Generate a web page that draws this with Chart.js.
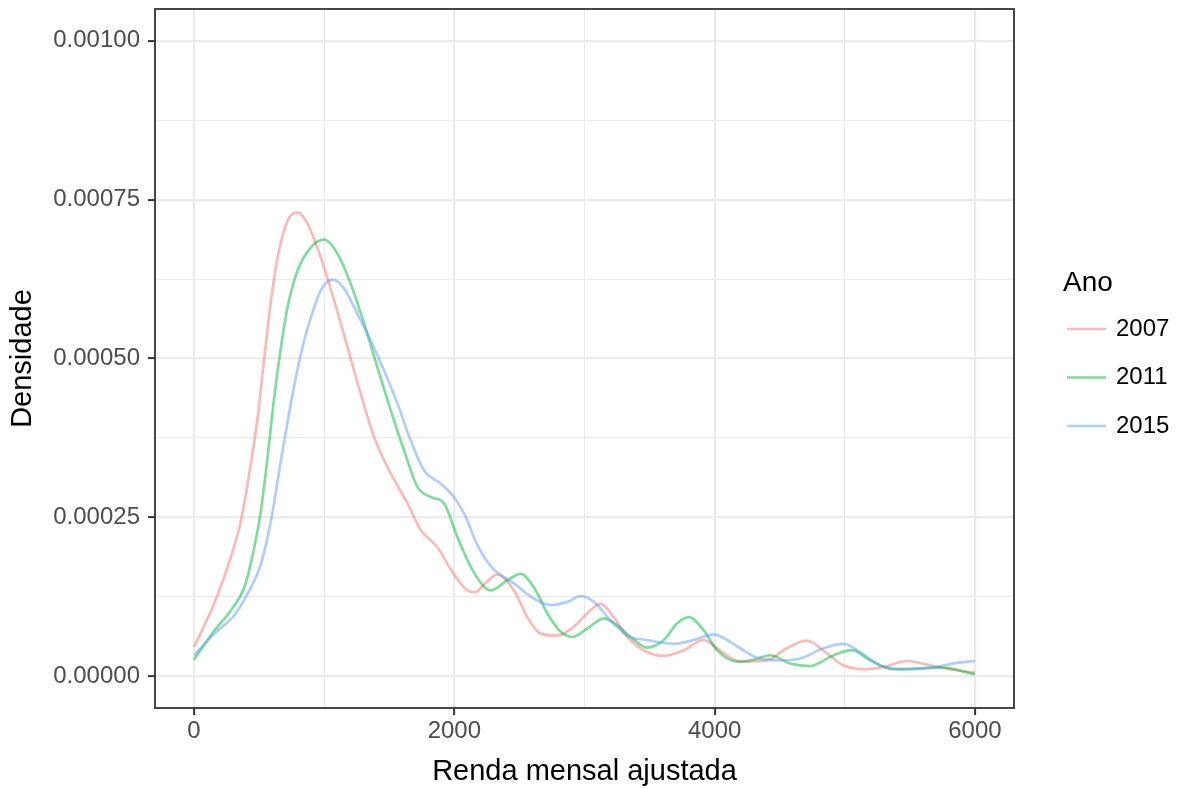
<!DOCTYPE html>
<html>
<head>
<meta charset="utf-8">
<script src="https://cdn.jsdelivr.net/npm/chart.js@4.4.1/dist/chart.umd.min.js"></script>
<style>
html,body{margin:0;padding:0;background:#fff;}
canvas{display:block;}
</style>
</head>
<body>
<canvas id="c" width="1186" height="789"></canvas>
<script>
// ---- Data ----
const anos = ['2007', '2011', '2015'];
const legendTitle = 'Ano';
const xTitle = 'Renda mensal ajustada';
const yTitle = 'Densidade';

const renda2007 = [0, 156, 284, 361, 437, 489, 540, 591, 642, 719, 795, 872, 974, 1077, 1179, 1281, 1384, 1486, 1640, 1742, 1870, 1997, 2100, 2160, 2230, 2330, 2458, 2560, 2663, 2791, 2919, 3021, 3123, 3225, 3328, 3481, 3609, 3762, 3916, 4018, 4197, 4402, 4555, 4709, 4862, 4990, 5169, 5323, 5476, 5681, 5860, 6000];
const dens2007  = [0.000046, 0.000115, 0.000188, 0.000245, 0.000335, 0.000408, 0.000502, 0.000591, 0.000659, 0.000717, 0.00073, 0.000712, 0.000659, 0.000591, 0.000518, 0.000444, 0.000376, 0.000329, 0.000272, 0.00023, 0.000203, 0.00016, 0.000135, 0.000132, 0.000145, 0.00016, 0.000135, 0.000093, 0.000067, 0.000064, 0.000078, 0.000099, 0.000114, 0.000093, 0.000062, 0.000038, 0.000032, 0.000041, 0.000057, 0.000044, 0.000023, 0.000025, 0.000044, 0.000056, 0.000036, 0.000017, 0.000011, 0.000016, 0.000024, 0.000016, 0.0000094, 0.0000058];

const renda2011 = [0, 156, 284, 386, 463, 514, 565, 616, 668, 719, 795, 898, 1000, 1102, 1205, 1307, 1409, 1512, 1614, 1716, 1819, 1921, 2023, 2151, 2279, 2407, 2509, 2611, 2714, 2816, 2906, 3021, 3149, 3251, 3353, 3481, 3609, 3711, 3801, 3916, 4018, 4172, 4300, 4427, 4581, 4734, 4913, 5054, 5195, 5374, 5553, 5732, 6000];
const dens2011  = [0.000026, 0.000072, 0.000104, 0.00014, 0.000203, 0.000261, 0.000345, 0.000439, 0.000518, 0.000581, 0.000638, 0.000675, 0.000687, 0.000665, 0.000617, 0.000555, 0.000486, 0.000418, 0.000355, 0.000298, 0.000282, 0.000272, 0.000219, 0.000163, 0.000135, 0.000151, 0.000161, 0.00014, 0.000099, 0.00007, 0.000062, 0.000075, 0.000091, 0.00008, 0.000062, 0.000045, 0.000057, 0.000083, 0.000093, 0.000072, 0.000041, 0.000023, 0.000026, 0.000033, 0.00002, 0.000016, 0.000033, 0.000041, 0.000025, 0.000011, 0.000012, 0.000014, 0.000003];

const renda2015 = [0, 156, 309, 412, 514, 591, 668, 744, 821, 898, 974, 1064, 1153, 1256, 1358, 1460, 1563, 1665, 1767, 1895, 1997, 2100, 2151, 2227, 2304, 2458, 2611, 2740, 2868, 2970, 3072, 3200, 3328, 3481, 3686, 3839, 3993, 4095, 4197, 4325, 4504, 4658, 4836, 4990, 5118, 5271, 5476, 5681, 5860, 6000];
const dens2015  = [0.000033, 0.000067, 0.000096, 0.00013, 0.000177, 0.000245, 0.00034, 0.000429, 0.000507, 0.000565, 0.000607, 0.000624, 0.00061, 0.00057, 0.000528, 0.000481, 0.000429, 0.000371, 0.000324, 0.000303, 0.000282, 0.000245, 0.000218, 0.000188, 0.000168, 0.000146, 0.000122, 0.000112, 0.000117, 0.000126, 0.000117, 0.000088, 0.000064, 0.000057, 0.000051, 0.000057, 0.000066, 0.000057, 0.000044, 0.000029, 0.000025, 0.000028, 0.000044, 0.000051, 0.000038, 0.000017, 0.000011, 0.000014, 0.000021, 0.000024];

const xMajorTicks = [0, 2000, 4000, 6000];
const xMinorTicks = [1000, 3000, 5000];
const xTickLabels = ['0', '2000', '4000', '6000'];
const yMajorTicks = [0, 0.00025, 0.0005, 0.00075, 0.001];
const yMinorTicks = [0.000125, 0.000375, 0.000625, 0.000875];
const yTickLabels = ['0.00000', '0.00025', '0.00050', '0.00075', '0.00100'];

// ---- Styling ----
const seriesColors = ['rgba(248,118,109,0.5)', 'rgba(0,186,56,0.5)', 'rgba(97,156,255,0.5)'];
const FONT = '"Liberation Sans", Arial, Helvetica, sans-serif';

const seriesX = [renda2007, renda2011, renda2015];
const seriesY = [dens2007, dens2011, dens2015];

function majorIndex(list, v) {
  return list.findIndex(t => Math.abs(t - v) < 1e-12 || Math.abs(t - v) < 1e-9 * Math.abs(t));
}

const datasets = anos.map((ano, i) => ({
  label: ano,
  data: seriesX[i].map((x, j) => ({ x: x, y: seriesY[i][j] })),
  borderColor: seriesColors[i],
  backgroundColor: seriesColors[i],
  borderWidth: 2.7,
  pointRadius: 0,
  fill: false,
  cubicInterpolationMode: 'monotone',
  order: anos.length - i
}));

const bgPlugin = {
  id: 'bg',
  beforeDraw(chart) {
    const ctx = chart.ctx;
    ctx.save();
    ctx.fillStyle = '#ffffff';
    ctx.fillRect(0, 0, chart.width, chart.height);
    ctx.restore();
  }
};

const framePlugin = {
  id: 'frame',
  afterDraw(chart) {
    const a = chart.chartArea;
    const ctx = chart.ctx;
    ctx.save();
    ctx.strokeStyle = '#333333';
    ctx.lineWidth = 1.8;
    ctx.strokeRect(a.left, a.top, a.right - a.left, a.bottom - a.top);
    ctx.restore();
  }
};

const legendPlugin = {
  id: 'ggLegend',
  afterDraw(chart) {
    const ctx = chart.ctx;
    const a = chart.chartArea;
    const x0 = a.right + 49;
    ctx.save();
    ctx.fillStyle = '#000';
    ctx.textAlign = 'left';
    ctx.textBaseline = 'alphabetic';
    ctx.font = '28px ' + FONT;
    ctx.fillText(legendTitle, x0, 291);
    chart.data.datasets.forEach((ds, i) => {
      const y = 329 + i * 48.5;
      ctx.strokeStyle = ds.borderColor;
      ctx.lineWidth = 2.7;
      ctx.beginPath();
      ctx.moveTo(x0 + 4, y);
      ctx.lineTo(x0 + 43, y);
      ctx.stroke();
      ctx.fillStyle = '#000';
      ctx.font = '24px ' + FONT;
      ctx.textBaseline = 'middle';
      ctx.fillText(ds.label, x0 + 53, y);
    });
    ctx.restore();
  }
};

const gridColor = '#EBEBEB';

new Chart(document.getElementById('c'), {
  type: 'line',
  data: { datasets: datasets },
  options: {
    responsive: false,
    animation: false,
    events: [],
    layout: { padding: { top: 9, right: 172, bottom: 0, left: 0 } },
    plugins: {
      legend: { display: false },
      tooltip: { enabled: false }
    },
    scales: {
      x: {
        type: 'linear',
        min: -300,
        max: 6300,
        afterBuildTicks: s => { s.ticks = xMajorTicks.concat(xMinorTicks).sort((p, q) => p - q).map(v => ({ value: v })); },
        afterFit: s => { s.height = 81; s.paddingLeft = 0; s.paddingRight = 0; },
        border: { display: false },
        grid: {
          color: c => gridColor,
          lineWidth: c => (majorIndex(xMajorTicks, c.tick.value) >= 0 ? 2.2 : 1.1),
          tickColor: c => (majorIndex(xMajorTicks, c.tick.value) >= 0 ? '#333333' : 'rgba(0,0,0,0)'),
          tickWidth: c => (majorIndex(xMajorTicks, c.tick.value) >= 0 ? 2 : 0),
          tickLength: 7,
          drawTicks: true
        },
        ticks: {
          autoSkip: false,
          maxRotation: 0,
          padding: 2,
          color: '#4D4D4D',
          font: { family: FONT, size: 24 },
          callback: (v) => { const k = majorIndex(xMajorTicks, v); return k >= 0 ? xTickLabels[k] : ''; }
        },
        title: {
          display: true,
          text: xTitle,
          color: '#000',
          font: { family: FONT, size: 29 },
          padding: { top: 0, bottom: 0 }
        }
      },
      y: {
        type: 'linear',
        min: -0.00005,
        max: 0.00105,
        afterBuildTicks: s => { s.ticks = yMajorTicks.concat(yMinorTicks).sort((p, q) => p - q).map(v => ({ value: v })); },
        afterFit: s => { s.width = 155; s.paddingTop = 0; s.paddingBottom = 0; },
        border: { display: false },
        grid: {
          color: c => gridColor,
          lineWidth: c => (majorIndex(yMajorTicks, c.tick.value) >= 0 ? 2.2 : 1.1),
          tickColor: c => (majorIndex(yMajorTicks, c.tick.value) >= 0 ? '#333333' : 'rgba(0,0,0,0)'),
          tickWidth: c => (majorIndex(yMajorTicks, c.tick.value) >= 0 ? 2 : 0),
          tickLength: 7,
          drawTicks: true
        },
        ticks: {
          autoSkip: false,
          padding: 8,
          color: '#4D4D4D',
          font: { family: FONT, size: 24 },
          callback: (v) => { const k = majorIndex(yMajorTicks, v); return k >= 0 ? yTickLabels[k] : ''; }
        },
        title: {
          display: true,
          text: yTitle,
          color: '#000',
          font: { family: FONT, size: 29 },
          padding: { top: 6, bottom: 0 }
        }
      }
    }
  },
  plugins: [bgPlugin, framePlugin, legendPlugin]
});
</script>
</body>
</html>
